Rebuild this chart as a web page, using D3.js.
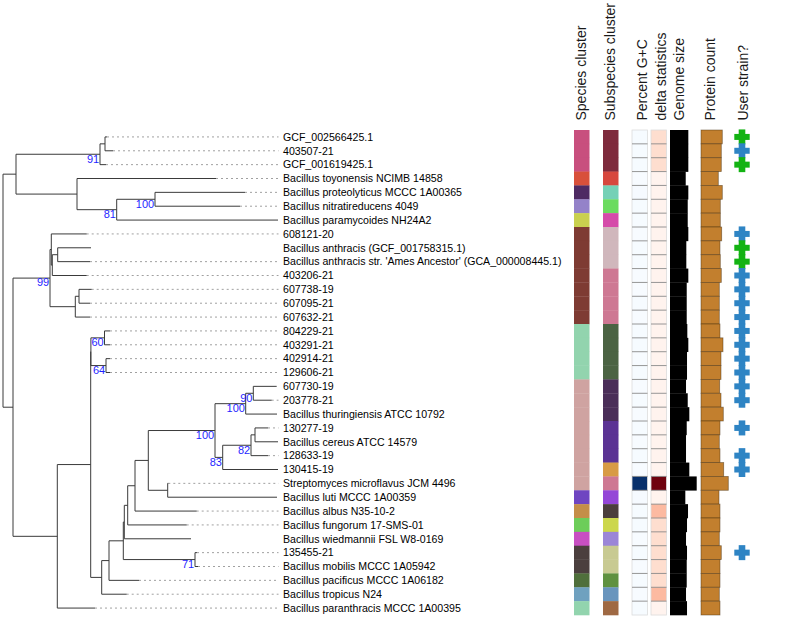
<!DOCTYPE html>
<html><head><meta charset="utf-8">
<script src="https://cdn.jsdelivr.net/npm/d3@7"></script>
<style>body{margin:0;background:#fff}svg{display:block;font-family:"Liberation Sans",Arial,Helvetica,sans-serif}</style>
</head><body><svg id="chart" width="790" height="617"></svg>
<script>
// ---------------- DATA ----------------
const leafLabels = [
  "GCF_002566425.1","403507-21","GCF_001619425.1","Bacillus toyonensis NCIMB 14858",
  "Bacillus proteolyticus MCCC 1A00365","Bacillus nitratireducens 4049","Bacillus paramycoides NH24A2",
  "608121-20","Bacillus anthracis (GCF_001758315.1)","Bacillus anthracis str. 'Ames Ancestor' (GCA_000008445.1)",
  "403206-21","607738-19","607095-21","607632-21","804229-21","403291-21","402914-21","129606-21",
  "607730-19","203778-21","Bacillus thuringiensis ATCC 10792","130277-19","Bacillus cereus ATCC 14579",
  "128633-19","130415-19","Streptomyces microflavus JCM 4496","Bacillus luti MCCC 1A00359",
  "Bacillus albus N35-10-2","Bacillus fungorum 17-SMS-01","Bacillus wiedmannii FSL W8-0169","135455-21",
  "Bacillus mobilis MCCC 1A05942","Bacillus pacificus MCCC 1A06182","Bacillus tropicus N24",
  "Bacillus paranthracis MCCC 1A00395"
];
// tree topology in Newick pieces (leaf names = index into leafLabels, internal names = bootstrap support)
const cladeC1  = "(((0:0.002,1:0.008):0.005,2:0.006)91:0.084,(3:0.139,((4:0.090,5:0.085)100:0.0383,6:0.1613)81:0.0397):0.061):0.013";
const cladeN223 = "(((21:0.013,22:0.023):0.004,23:0.017)82:0.0283,24:0.0553)83:0.0077";
const cladeN246 = "((18:0.0234,19:0.0184)90:0.0076,20:0.0313)100:0.0307";
const cladeN215 = "(" + cladeN246 + "," + cladeN223 + ")100:0.0667";
const cladeStrep = "(25:0.0006,26:0.1093):0.0194";
const cladeN148 = "(" + cladeN215 + "," + cladeStrep + "):0.0133";
const cladeN135 = "(" + cladeN148 + ",27:0.0617):0.0073";
const cladeN128 = "(" + cladeN135 + ",28:0.059):0.0034";
const cladeNw = "(" + cladeN128 + ",29:0.0667):0.001";
const cladeN71 = "(30:0.002,31:0.003)71:0.0717";
const cladeNv = "(" + cladeNw + "," + cladeN71 + "):0.0143";
const cladeNu = "(" + cladeNv + ",32:0.030):0.0073";
const cladeNt = "(" + cladeNu + ",33:0.025):0.011";
const cladeS2 = "((14:0.0055,15:0.0055)60:0.0136,(16:0.004,17:0.004)64:0.0151):0.0002";
const cladeS1 = "(" + cladeS2 + "," + cladeNt + "):0.0334";
const cladeN57 = "(" + cladeS1 + ",34:0.0377):0.0443";
const cladeA1 = "(7:0.0354,((8:0.0333,9:0.0323):0.0054,10:0.0344):0.001):0.0013";
const cladeB = "((11:0.0127,12:0.011):0.0037,13:0.0147):0.0253";
const cladeN99 = "(" + cladeA1 + "," + cladeB + ")99:0.037";
const cladeC2 = "(" + cladeN99 + "," + cladeN57 + "):0.010";
const treeNewick = "(" + cladeC1 + "," + cladeC2 + ")";
const guideHidden = [8, 29];

const columnHeaders = ["Species cluster","Subspecies cluster","Percent G+C","delta statistics","Genome size","Protein count","User strain?"];

const speciesCluster = [1,1,1,2,3,4,5,6,6,6,6,6,6,6,7,7,7,7,8,8,8,8,8,8,8,8,9,10,11,12,13,13,14,15,7];
const speciesColors = ["#c84f7e","#d8503b","#4e2a63","#9482c9","#c9d04f","#7e3b33","#92d4ae","#cfa3a1","#6f45c1","#c48e48","#6dcd59","#c84fc2","#4b3f3e","#4f6f3b","#6fa1bf"];
const subspeciesCluster = [1,1,1,2,3,4,5,6,6,6,7,7,7,7,8,8,8,8,9,9,9,10,10,10,11,7,12,13,14,15,16,16,17,18,19];
const subspeciesColors = ["#7e2a3c","#d7473e","#75d1b6","#6bdb5f","#d54ba9","#d0b7bc","#ce7893","#4b6343","#4a2e58","#5b3394","#d89b45","#9446d7","#4b3e3c","#ccd74c","#9b86d7","#c8ca92","#5f9140","#6995bd","#9f6943"];
const gcPercent = [35.4,35.4,35.4,35.3,35.5,35.4,35.4,35.3,35.4,35.4,35.3,35.3,35.4,35.3,35.4,35.4,35.3,35.4,35.3,35.4,35.3,35.4,35.3,35.4,35.3,71.2,35.5,35.4,35.4,35.3,35.4,35.3,35.4,35.3,35.4];
const deltaStat = [0.137,0.137,0.137,0.103,0.103,0.103,0.103,0.103,0.103,0.103,0.103,0.103,0.103,0.103,0.103,0.103,0.103,0.103,0.103,0.103,0.103,0.103,0.103,0.103,0.103,0.395,0.103,0.175,0.137,0.137,0.137,0.137,0.137,0.175,0.103];
const genomeSizeMb = [5.49,5.49,5.49,4.71,5.49,5.31,5.31,5.49,4.89,4.89,5.49,5.01,5.01,5.01,5.19,5.49,5.10,5.10,4.80,5.31,5.79,5.01,4.80,4.80,5.79,8.00,4.59,5.40,5.10,4.80,5.10,5.01,5.01,4.80,5.10];
const proteinCount = [5540,5280,5280,4500,5540,5020,5020,5380,4940,5020,5280,4760,4760,4760,4940,5720,5200,5200,4860,5200,5800,4940,4760,4940,5900,7100,4680,4940,4940,4760,5280,4940,4940,4760,4940];
const userStrain = ["ref","user","ref",null,null,null,null,"user","ref","ref","user","user","user","user","user","user","user","user","user","user",null,"user",null,"user","user",null,null,null,null,null,"user",null,null,null,null];
const userColors = {ref:"#13b313", user:"#2e84c4"};

// ---------------- HELPERS ----------------
function parseNewick(s){
  let i=0;
  function node(){
    const n={children:[]};
    if(s[i]==='('){ i++; n.children.push(node()); while(s[i]===','){ i++; n.children.push(node()); } i++; }
    let name=''; while(i<s.length && !':,()'.includes(s[i])) name+=s[i++];
    let len=0; if(s[i]===':'){ i++; let num=''; while(i<s.length && !',()'.includes(s[i])) num+=s[i++]; len=+num; }
    n.name=name; n.length=len; return n;
  }
  return node();
}

// ---------------- LAYOUT ----------------
const svg = d3.select("#chart");
const n = leafLabels.length;
const y = d3.scaleBand().domain(d3.range(n)).range([130, 615]).paddingInner(0).paddingOuter(0);
const yc = i => y(i) + y.bandwidth()/2;
const x = d3.scaleLinear().domain([0, 0.275]).range([3, 278]);
const guideEnd = 278.5;

const root = d3.hierarchy(parseNewick(treeNewick), d => d.children.length ? d.children : null);
root.eachBefore(d => { d.dist = d.parent ? d.parent.dist + d.data.length : 0; });
root.eachAfter(d => {
  if (!d.children) d.yy = yc(+d.data.name);
  else d.yy = (d.children[0].yy + d.children[d.children.length-1].yy)/2;
});

const gTree = svg.append("g");
// guides (dotted)
gTree.selectAll("line.guide").data(root.leaves().filter(d => x(d.dist) < guideEnd - 2 && !guideHidden.includes(+d.data.name)))
  .join("line").attr("class","guide")
  .attr("x1", d => x(d.dist)).attr("x2", guideEnd)
  .attr("y1", d => d.yy).attr("y2", d => d.yy)
  .attr("stroke","#a0a0a0").attr("stroke-width",1).attr("stroke-dasharray","2,3");
// horizontal branches
gTree.selectAll("line.h").data(root.descendants().filter(d => d.parent))
  .join("line").attr("class","h")
  .attr("x1", d => x(d.parent.dist)).attr("x2", d => x(d.dist))
  .attr("y1", d => d.yy).attr("y2", d => d.yy)
  .attr("stroke","#3a3a3a").attr("stroke-width",1);
// vertical connectors
gTree.selectAll("line.v").data(root.descendants().filter(d => d.children))
  .join("line").attr("class","v")
  .attr("x1", d => x(d.dist)).attr("x2", d => x(d.dist))
  .attr("y1", d => d.children[0].yy).attr("y2", d => d.children[d.children.length-1].yy)
  .attr("stroke","#3a3a3a").attr("stroke-width",1);
// bootstrap labels
gTree.selectAll("text.bs").data(root.descendants().filter(d => d.children && d.data.name !== ""))
  .join("text").attr("class","bs")
  .attr("x", d => x(d.dist) - 0.8).attr("y", d => d.yy + 8.3)
  .attr("text-anchor","end").attr("font-size",11).attr("fill","#1f1fff")
  .text(d => d.data.name);
// leaf labels
svg.append("g").selectAll("text").data(leafLabels).join("text")
  .attr("x", 283).attr("y", (d,i) => yc(i) + 3.8)
  .attr("font-size", 10.6).attr("fill","#000").text(d => d);

// ---------------- HEATMAP COLUMNS ----------------
const bw = y.bandwidth();
const speciesScale = d3.scaleOrdinal().domain(d3.range(1, speciesColors.length+1)).range(speciesColors);
const subScale = d3.scaleOrdinal().domain(d3.range(1, subspeciesColors.length+1)).range(subspeciesColors);
const gcScale = d3.scaleSequential(d3.interpolateBlues).domain([35.3, 71.2]);
const deltaScale = d3.scaleSequential(d3.interpolateReds).domain([0.10, 0.40]);
const genomeScale = d3.scaleLinear().domain([0, 8.0]).range([0, 26.7]);
const protScale = d3.scaleLinear().domain([0, 7100]).range([0, 27.3]);

const cols = {species:574, sub:603, gc:632, delta:651, genome:670, prot:701, user:742};
const tileW = 15.5;

function tileColumn(x0, values, colorFn, separators){
  const g = svg.append("g");
  g.selectAll("rect").data(values).join("rect")
    .attr("x", x0).attr("y", (d,i) => y(i)).attr("width", tileW).attr("height", bw + 0.3)
    .attr("fill", d => colorFn(d));
  if (separators){
    g.append("rect").attr("x", x0).attr("y", y(0)).attr("width", tileW).attr("height", bw*n)
      .attr("fill","none").attr("stroke","#dcdcdc").attr("stroke-width",0.8);
    g.selectAll("line").data(d3.range(1, n)).join("line")
      .attr("x1", x0).attr("x2", x0 + tileW).attr("y1", i => y(i)).attr("y2", i => y(i))
      .attr("stroke","#8a8a8a").attr("stroke-width",0.9);
  }
}
tileColumn(cols.species, speciesCluster, speciesScale, false);
tileColumn(cols.sub, subspeciesCluster, subScale, false);
tileColumn(cols.gc, gcPercent, gcScale, true);
tileColumn(cols.delta, deltaStat, deltaScale, true);

// genome size bars
svg.append("g").selectAll("rect").data(genomeSizeMb).join("rect")
  .attr("x", cols.genome).attr("y", (d,i) => y(i)).attr("width", d => genomeScale(d)).attr("height", bw + 0.3)
  .attr("fill","#000");
// protein count bars
const gp = svg.append("g");
gp.selectAll("rect").data(proteinCount).join("rect")
  .attr("x", cols.prot).attr("y", (d,i) => y(i)).attr("width", d => protScale(d)).attr("height", bw)
  .attr("fill","#c27f2e").attr("stroke","rgba(70,45,15,0.55)").attr("stroke-width",0.8);

// user strain crosses
const gu = svg.append("g");
const uData = userStrain.map((v,i) => ({v,i})).filter(d => d.v);
gu.selectAll("rect.v").data(uData).join("rect").attr("class","v")
  .attr("x", cols.user - 3.3).attr("y", d => yc(d.i) - 7.5).attr("width", 6.6).attr("height", 15)
  .attr("fill", d => userColors[d.v]);
gu.selectAll("rect.h").data(uData).join("rect").attr("class","h")
  .attr("x", cols.user - 7.7).attr("y", d => yc(d.i) - 3).attr("width", 15.4).attr("height", 6)
  .attr("fill", d => userColors[d.v]);

// headers
const headerX = [586, 615, 646.5, 666.2, 683.6, 714.8, 747.6];
svg.append("g").selectAll("text").data(columnHeaders).join("text")
  .attr("transform", (d,i) => `translate(${headerX[i]},120.5) rotate(-90)`)
  .attr("font-size", 14).attr("fill","#1a1a1a").text(d => d);
</script>
</body></html>
